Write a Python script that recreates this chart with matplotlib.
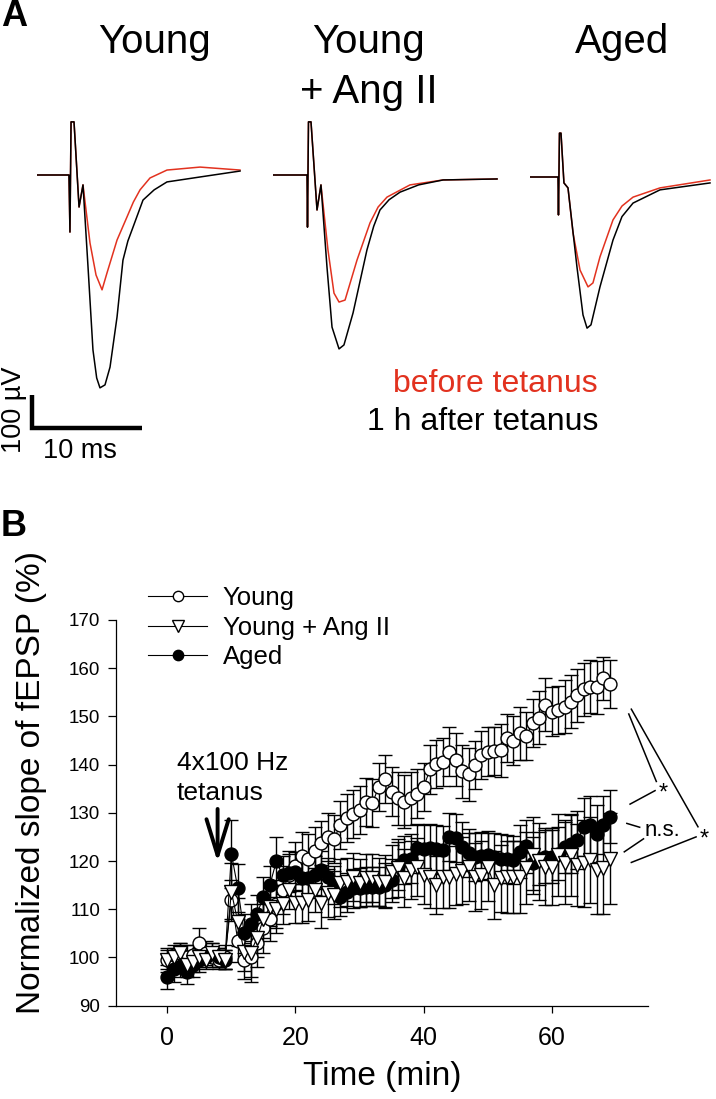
import matplotlib
matplotlib.use('Agg')
import matplotlib.pyplot as plt

plt.rcParams['font.family'] = ['Liberation Sans', 'DejaVu Sans']

W, H = 716, 1099

# ---- panel A: example traces (ms, uV relative to baseline) ----
young_blk_t = [0, 2.92, 3.01, 3.11, 3.38, 3.84, 4.20, 4.66, 5.11, 5.45, 5.75, 6.21, 6.67, 7.31, 7.85, 8.30, 8.77, 9.68, 10.7, 11.87, 14.89, 18.54]
young_blk_v = [0, 0, -173, 161, 161, -97, -30, -279, -530, -615, -645, -636, -582, -430, -258, -200, -158, -76, -45, -21, -6, 12]
young_red_t = [0, 2.92, 3.01, 3.11, 3.38, 3.84, 4.20, 4.84, 5.39, 5.94, 6.39, 7.31, 8.22, 8.8, 9.41, 10.32, 11.87, 14.89, 18.54]
young_red_v = [0, 0, -173, 161, 161, -97, -30, -206, -303, -348, -297, -197, -127, -82, -45, -9, 15, 24, 15]

ang_blk_t = [0, 3.11, 3.15, 3.24, 3.47, 4.02, 4.38, 4.93, 5.39, 6.03, 6.48, 7.31, 8.58, 9.2, 9.77, 10.6, 11.60, 13.3, 15.53, 20.46]
ang_blk_v = [0, 0, -158, 161, 161, -106, -30, -279, -461, -527, -515, -418, -227, -155, -106, -75, -52, -30, -15, -12]
ang_red_t = [0, 3.11, 3.15, 3.24, 3.47, 4.02, 4.38, 5.02, 5.57, 6.03, 6.58, 7.67, 8.86, 9.6, 10.41, 12.51, 15.53, 20.46]
ang_red_v = [0, 0, -158, 161, 161, -106, -30, -227, -358, -385, -379, -258, -145, -97, -67, -30, -15, -12]

aged_blk_t = [0, 2.56, 2.60, 2.69, 2.83, 3.10, 3.47, 4.29, 4.84, 5.21, 5.57, 6.39, 7.58, 8.4, 9.41, 11.87, 16.44]
aged_blk_v = [0, 0, -115, 133, 133, -18, -33, -273, -418, -458, -448, -333, -191, -120, -79, -39, -18]
aged_red_t = [0, 2.56, 2.60, 2.69, 2.83, 3.10, 3.47, 3.93, 4.57, 5.30, 5.75, 6.39, 7.58, 8.4, 9.41, 11.87, 16.44]
aged_red_v = [0, 0, -115, 133, 133, -18, -33, -170, -282, -333, -321, -242, -130, -88, -61, -33, -9]

# ---- panel B: normalized fEPSP slope ----
time_min = list(range(70))

young = [99.5, 100.5, 101, 100, 100.5, 103, 101, 100, 99.5, 100,
         112, 103.5, 99.5, 100, 103, 106, 108, 111, 114, 117,
         119, 121, 120.5, 122, 123.7, 125, 124.5, 127.5, 129, 129.8,
         130.6, 132.3, 132, 135.4, 137, 134.4, 133, 132.3, 133, 134,
         135.4, 139, 140.2, 140.5, 142.7, 141, 138.6, 138, 140, 142,
         142.7, 142.8, 143, 145.5, 145, 146.5, 146, 148.6, 149.7, 152.4,
         151, 151.4, 152, 153, 154.4, 155.6, 156.2, 156, 157.9, 156.7]
young_err = [2.5, 2, 2, 2.5, 2, 3, 2.5, 2, 2, 2.5,
             4, 4.5, 4, 5, 5, 5, 4.5, 5, 5, 5,
             5, 5, 5, 5, 4.5, 5, 5, 5, 5, 5,
             5, 5, 5, 5, 5, 5, 5.5, 5.5, 5.5, 5,
             5, 5, 5, 5, 5, 5.5, 5.5, 5.5, 5, 5,
             5, 5, 5.5, 5, 5, 5.5, 5, 5, 5.5, 5.5,
             5, 5, 5.5, 5.5, 5.5, 5.5, 5.5, 5.5, 4.5, 5]

angii = [99.5, 100, 101, 98.4, 99, 100, 99.5, 101, 100, 99.5,
         113.6, 107.4, 101.2, 101, 104, 108, 110.5, 110, 111, 114,
         111.2, 111.2, 112, 114, 111.2, 113.3, 113, 115.4, 115.7, 116.7,
         115.4, 116.4, 116.4, 115.7, 115.7, 117.8, 118.5, 116.4, 118.1, 118.8,
         117.1, 116.7, 115, 116.7, 116.7, 117.3, 118, 118.8, 116.7, 117.1,
         118.8, 115, 116.4, 116.7, 116.7, 116.7, 118.5, 121.2, 119.9, 118.8,
         118.8, 121.2, 119.5, 121.2, 119.2, 119.5, 120.2, 118.1, 118.5, 120.5]
angii_err = [2, 2, 2, 2.5, 2, 2, 2, 2, 2, 2,
             6, 5, 4, 5, 4, 4, 4, 5, 4, 4,
             4, 4, 4.5, 4.5, 5, 5, 5, 5, 5, 5,
             5, 5, 5, 5, 5.5, 5.5, 6, 6, 6, 6,
             6, 6.5, 6, 6.5, 6.5, 6.5, 7, 7, 7, 7,
             7, 7, 7, 7.5, 7.5, 7.5, 7.5, 8, 8, 8,
             8, 8.5, 8.5, 8.5, 8.5, 9, 9, 9, 9.5, 9.5]

aged = [96, 97.5, 98, 97, 98.5, 99.5, 100, 101, 100, 99.5,
        121.5, 114.4, 105, 107, 109, 112.6, 115, 119.9, 117.1, 117.5,
        117.8, 116.5, 116.4, 117, 118.1, 116.7, 115, 112.6, 113.5, 114.3,
        114.5, 114.7, 114.7, 114.7, 115, 116, 119, 120.2, 120.5, 122.6,
        122.5, 122.6, 122.5, 122.3, 125, 124.7, 123, 121.6, 120.9, 121,
        121.2, 120.8, 120.5, 120.4, 120.2, 121.9, 123.1, 119.5, 120.5, 120.9,
        120.9, 121.5, 123, 123.5, 124.4, 127.1, 127.5, 125.7, 127.5, 129.2]
aged_err = [2.5, 2.5, 2, 2.5, 2.5, 2.5, 2, 2, 2, 2,
            7, 5, 4, 4, 4, 4, 4, 5, 4, 4,
            4, 4, 4, 4, 4, 4, 4, 4, 4, 4,
            4, 4, 4, 4, 4.5, 4.5, 5, 5, 5, 5,
            5, 5, 5, 5, 5, 5, 5, 5, 5, 5,
            5, 5, 5, 5, 5, 5.5, 5.5, 5.5, 5.5, 5.5,
            5.5, 5.5, 5.5, 6, 6, 6, 6, 6, 6, 5.5]

red = '#e2321f'

fig = plt.figure(figsize=(W / 100, H / 100), dpi=100)


def px_axes(left, top, width, height):
    return fig.add_axes([left / W, 1 - (top + height) / H, width / W, height / H])


def trace_axes(left, baseline):
    # 10.95 px per ms, 0.33 px per uV
    ax = px_axes(left, baseline - 200 * 0.33, 21 * 10.95, 1000 * 0.33)
    ax.set_xlim(0, 21)
    ax.set_ylim(-800, 200)
    ax.axis('off')
    return ax


ax1 = trace_axes(37, 175)
ax1.plot(young_red_t, young_red_v, color=red, lw=1.1)
ax1.plot(young_blk_t, young_blk_v, color='k', lw=1.1)
# scale bar: 10 ms, 100 uV
ax1.plot([-0.46, -0.46, 9.6], [-667, -767, -767], color='k', lw=3.2, clip_on=False,
         solid_capstyle='butt', solid_joinstyle='miter')

ax2 = trace_axes(273, 175)
ax2.plot(ang_red_t, ang_red_v, color=red, lw=1.1)
ax2.plot(ang_blk_t, ang_blk_v, color='k', lw=1.1)

ax3 = trace_axes(530, 177)
ax3.plot(aged_red_t, aged_red_v, color=red, lw=1.1)
ax3.plot(aged_blk_t, aged_blk_v, color='k', lw=1.1)

fig.text(14 / W, 1 - 17 / H, 'A', fontsize=26, fontweight='bold', ha='center', va='center')
fig.text(14 / W, 1 - 527 / H, 'B', fontsize=26, fontweight='bold', ha='center', va='center')

fig.text(155 / W, 1 - 42 / H, 'Young', fontsize=29, ha='center', va='center')
fig.text(369 / W, 1 - 42 / H, 'Young', fontsize=29, ha='center', va='center')
fig.text(369 / W, 1 - 92 / H, '+ Ang II', fontsize=29, ha='center', va='center')
fig.text(622 / W, 1 - 42 / H, 'Aged', fontsize=29, ha='center', va='center')

fig.text(598 / W, 1 - 384 / H, 'before tetanus', fontsize=23, color=red, ha='right', va='center')
fig.text(598 / W, 1 - 422 / H, '1 h after tetanus', fontsize=23, color='k', ha='right', va='center')
fig.text(80 / W, 1 - 451 / H, '10 ms', fontsize=19.5, ha='center', va='center')
fig.text(14 / W, 1 - 410 / H, '100 \u00b5V', fontsize=19.5, ha='center', va='center', rotation=90)

# ---- panel B axes ----
ax = px_axes(116, 620, 648 - 116, 1005.6 - 620)

style = dict(color='k', mec='k', lw=0.8, mew=1.0, elinewidth=1.0, capsize=4.7, capthick=1.0)
eb_young = ax.errorbar(time_min, young, yerr=young_err, fmt='-o', mfc='white', ms=9.3, **style)
eb_aged = ax.errorbar(time_min, aged, yerr=aged_err, fmt='-o', mfc='k', ms=9.3, **style)
eb_ang = ax.errorbar(time_min, angii, yerr=angii_err, fmt='-v', mfc='white', ms=10.5, **style)

ax.set_xlim(-8, 75)
ax.set_ylim(90, 170)
ax.set_xticks([0, 20, 40, 60])
ax.set_yticks(range(90, 171, 10))
ax.spines['top'].set_visible(False)
ax.spines['right'].set_visible(False)
for s in ['left', 'bottom']:
    ax.spines[s].set_linewidth(0.9)
ax.tick_params(axis='y', direction='out', length=5.5, width=0.9, labelsize=13.5, pad=6)
ax.tick_params(axis='x', direction='out', length=5, width=0.9, labelsize=18, pad=10)

fig.text(32 / W, 1 - 782 / H, 'Normalized slope of fEPSP (%)', fontsize=24, rotation=90,
         ha='center', va='center')
fig.text(382 / W, 1 - 1077 / H, 'Time (min)', fontsize=24, ha='center', va='center')

leg = ax.legend([eb_young[0], eb_ang[0], eb_aged[0]], ['Young', 'Young + Ang II', 'Aged'],
                loc='upper left', bbox_to_anchor=(148 / W, 1 - 586 / H), bbox_transform=fig.transFigure,
                frameon=False, fontsize=18.5, handlelength=2.3, handletextpad=0.6,
                labelspacing=0.22, borderpad=0, borderaxespad=0, numpoints=1, markerscale=0.8)

# tetanus marker
ax.text(1.5, 140.3, '4x100 Hz', fontsize=19, ha='left', va='center')
ax.text(1.5, 134.1, 'tetanus', fontsize=19, ha='left', va='center')
ax.annotate('', xy=(7.85, 119.8), xytext=(7.85, 130.8),
            arrowprops=dict(arrowstyle='->, head_length=1.3, head_width=0.4', lw=2.8,
                            color='k', mutation_scale=20, shrinkA=0, shrinkB=0))

# significance brackets
sig_lines = [
    ([72.0, 76.3], [150.5, 136.5]),
    ([72.4, 82.8], [151.5, 127.1]),
    ([76.1, 72.2], [134.6, 131.8]),
    ([71.7, 73.7], [127.8, 127.0]),
    ([71.3, 74.3], [121.9, 124.6]),
    ([72.4, 82.5], [119.7, 125.0]),
]
for xs, ys in sig_lines:
    ax.plot(xs, ys, color='k', lw=1.1, clip_on=False)
ax.text(77.3, 134.0, '*', fontsize=17, ha='center', va='center')
ax.text(83.8, 124.5, '*', fontsize=17, ha='center', va='center')
ax.text(74.5, 126.3, 'n.s.', fontsize=16, ha='left', va='center')

fig.savefig('out.png', dpi=100)
